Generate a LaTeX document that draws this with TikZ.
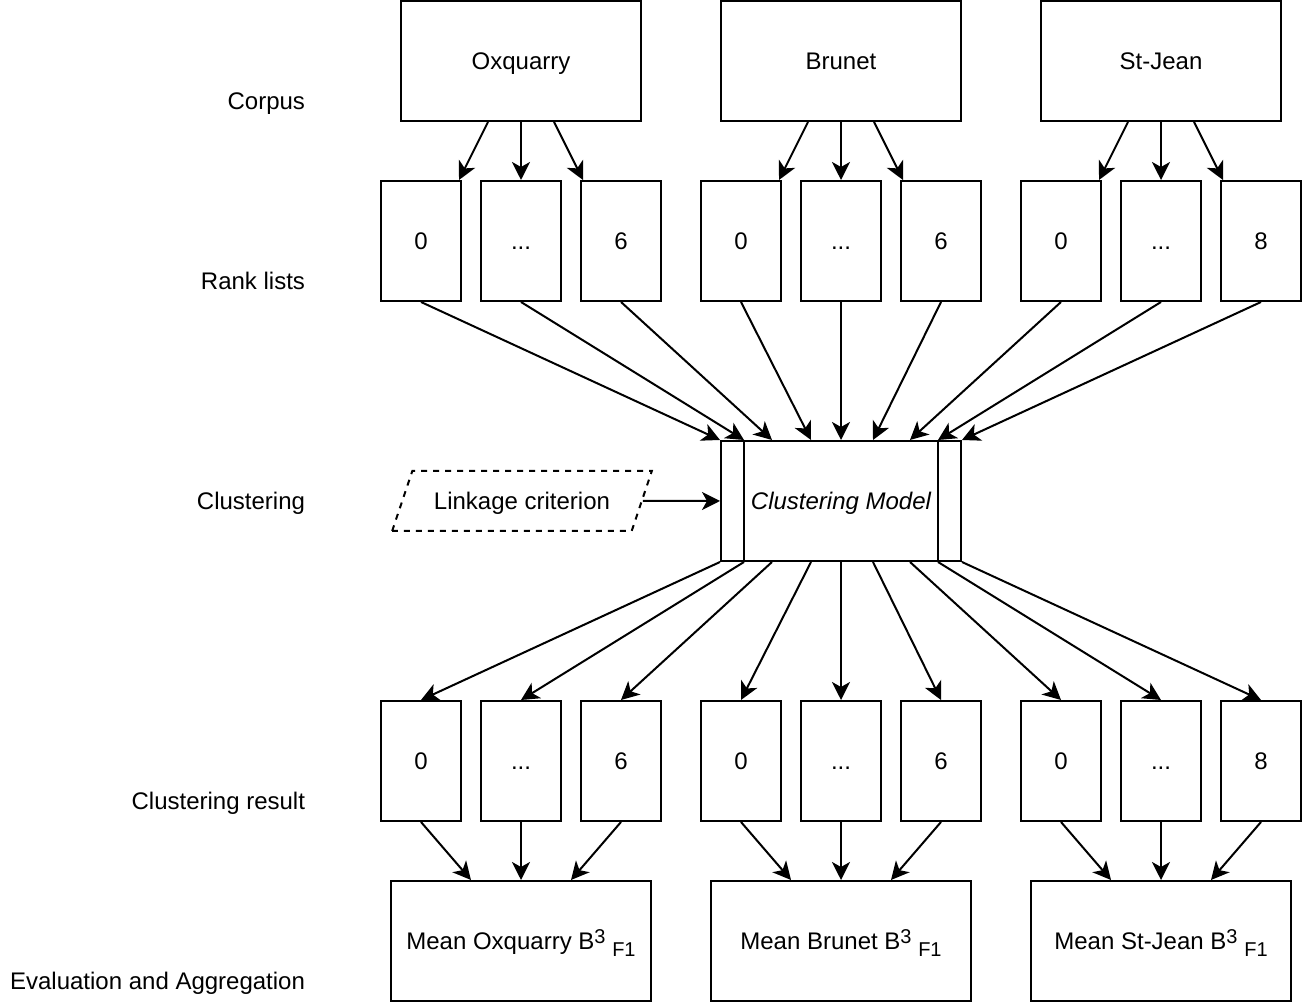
\documentclass[tikz,border=0pt]{standalone}
\usepackage{fontspec}
\setmainfont{Liberation Sans}
\usetikzlibrary{arrows.meta,shapes.geometric}
\newcommand{\bcubed}{B\raisebox{3pt}{\fontsize{10}{10}\selectfont 3} \raisebox{-3.5pt}{\fontsize{10}{10}\selectfont F1}}
\begin{document}
\begin{tikzpicture}[x=0.5pt, y=-0.5pt, line width=1pt,
    every node/.style={font=\fontsize{12}{14}\selectfont, text height=10.5pt, text depth=1.5pt},
    corpus/.style={draw, minimum width=120pt, minimum height=60pt, inner sep=0pt},
    listbox/.style={draw, minimum width=40pt, minimum height=60pt, inner sep=0pt},
    meanbox/.style={draw, minimum width=130pt, minimum height=60pt, inner sep=0pt},
    rowlabel/.style={anchor=east, inner sep=0pt},
    arr/.style={-{Stealth[length=9pt, width=9pt, inset=2.5pt]}}]
    \useasboundingbox (-1,-1) rectangle (1301,1003);
    \node[rowlabel] (lcorpus) at (305,100) {Corpus};
    \node[rowlabel] (lrank) at (305,280) {Rank lists};
    \node[rowlabel] (lclust) at (305,500) {Clustering};
    \node[rowlabel] (lresult) at (305,800) {Clustering result};
    \node[rowlabel] (leval) at (305,980) {Evaluation and Aggregation};
    \node[corpus] (ox) at (520,60) {Oxquarry};
    \node[corpus] (br) at (840,60) {Brunet};
    \node[corpus] (sj) at (1160,60) {St-Jean};
    \node[listbox] (rank1) at (420,240) {0};
    \node[listbox] (rank2) at (520,240) {...};
    \node[listbox] (rank3) at (620,240) {6};
    \node[listbox] (rank4) at (740,240) {0};
    \node[listbox] (rank5) at (840,240) {...};
    \node[listbox] (rank6) at (940,240) {6};
    \node[listbox] (rank7) at (1060,240) {0};
    \node[listbox] (rank8) at (1160,240) {...};
    \node[listbox] (rank9) at (1260,240) {8};
    \node[draw, minimum width=120pt, minimum height=60pt, inner sep=0pt, font=\fontsize{12}{14}\selectfont\itshape] (cm) at (840,500) {Clustering Model};
    \draw ([xshift=12pt]cm.north west) -- ([xshift=12pt]cm.south west);
    \draw ([xshift=-12pt]cm.north east) -- ([xshift=-12pt]cm.south east);
    \node[draw, dash pattern=on 3pt off 3pt, trapezium, trapezium left angle=56, trapezium right angle=124, trapezium stretches=true, minimum width=130pt, minimum height=30pt, inner sep=0pt] (link) at (521,500) {Linkage criterion};
    \node[listbox] (res1) at (420,760) {0};
    \node[listbox] (res2) at (520,760) {...};
    \node[listbox] (res3) at (620,760) {6};
    \node[listbox] (res4) at (740,760) {0};
    \node[listbox] (res5) at (840,760) {...};
    \node[listbox] (res6) at (940,760) {6};
    \node[listbox] (res7) at (1060,760) {0};
    \node[listbox] (res8) at (1160,760) {...};
    \node[listbox] (res9) at (1260,760) {8};
    \node[meanbox] (meanox) at (520,940) {Mean Oxquarry \bcubed};
    \node[meanbox] (meanbr) at (840,940) {Mean Brunet \bcubed};
    \node[meanbox] (meansj) at (1160,940) {Mean St-Jean \bcubed};
    \draw[arr] ([xshift=-16.5pt]ox.south) -- ([xshift=-1.5pt]rank1.north east);
    \draw[arr] (ox.south) -- (rank2.north);
    \draw[arr] ([xshift=16.5pt]ox.south) -- ([xshift=1.5pt]rank3.north west);
    \draw[arr] ([xshift=-16.5pt]br.south) -- ([xshift=-1.5pt]rank4.north east);
    \draw[arr] (br.south) -- (rank5.north);
    \draw[arr] ([xshift=16.5pt]br.south) -- ([xshift=1.5pt]rank6.north west);
    \draw[arr] ([xshift=-16.5pt]sj.south) -- ([xshift=-1.5pt]rank7.north east);
    \draw[arr] (sj.south) -- (rank8.north);
    \draw[arr] ([xshift=16.5pt]sj.south) -- ([xshift=1.5pt]rank9.north west);
    \draw[arr] (rank1.south) -- (cm.north west);
    \draw[arr] (rank2.south) -- ([xshift=12pt]cm.north west);
    \draw[arr] (rank3.south) -- ([xshift=26pt]cm.north west);
    \draw[arr] (rank4.south) -- ([xshift=-15pt]cm.north);
    \draw[arr] (rank5.south) -- (cm.north);
    \draw[arr] (rank6.south) -- ([xshift=16pt]cm.north);
    \draw[arr] (rank7.south) -- ([xshift=-26pt]cm.north east);
    \draw[arr] (rank8.south) -- ([xshift=-12pt]cm.north east);
    \draw[arr] (rank9.south) -- (cm.north east);
    \draw[arr] (link.east) -- (cm.west);
    \draw[arr] (cm.south west) -- (res1.north);
    \draw[arr] ([xshift=12pt]cm.south west) -- (res2.north);
    \draw[arr] ([xshift=26pt]cm.south west) -- (res3.north);
    \draw[arr] ([xshift=-15pt]cm.south) -- (res4.north);
    \draw[arr] (cm.south) -- (res5.north);
    \draw[arr] ([xshift=16pt]cm.south) -- (res6.north);
    \draw[arr] ([xshift=-26pt]cm.south east) -- (res7.north);
    \draw[arr] ([xshift=-12pt]cm.south east) -- (res8.north);
    \draw[arr] (cm.south east) -- (res9.north);
    \draw[arr] (res1.south) -- ([xshift=-25pt]meanox.north);
    \draw[arr] (res2.south) -- (meanox.north);
    \draw[arr] (res3.south) -- ([xshift=25pt]meanox.north);
    \draw[arr] (res4.south) -- ([xshift=-25pt]meanbr.north);
    \draw[arr] (res5.south) -- (meanbr.north);
    \draw[arr] (res6.south) -- ([xshift=25pt]meanbr.north);
    \draw[arr] (res7.south) -- ([xshift=-25pt]meansj.north);
    \draw[arr] (res8.south) -- (meansj.north);
    \draw[arr] (res9.south) -- ([xshift=25pt]meansj.north);
\end{tikzpicture}
\end{document}
